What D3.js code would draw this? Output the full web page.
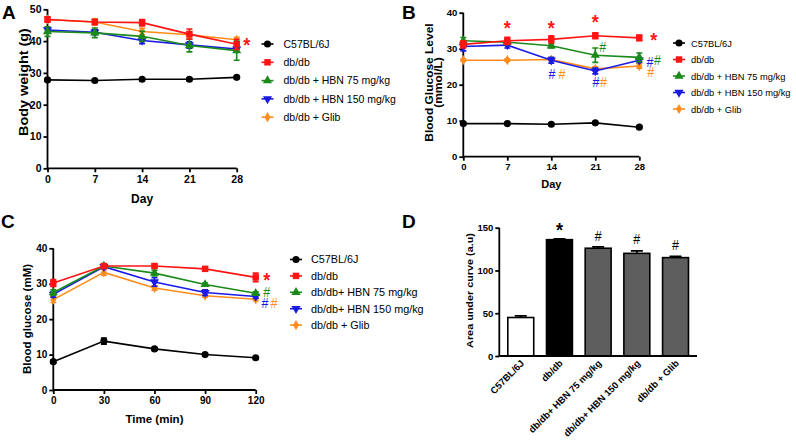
<!DOCTYPE html>
<html><head><meta charset="utf-8">
<script src="https://cdn.jsdelivr.net/npm/d3@7"></script>
<style>
body{margin:0;background:#fff;}
svg text{font-family:Arial,"Liberation Sans",sans-serif;}
</style></head>
<body><svg id="c" width="796" height="441"></svg>
<script>
// ---------- DATA ----------
const days = [0, 7, 14, 21, 28];
const minutes = [0, 30, 60, 90, 120];
const groupsAB = ["C57BL/6J", "db/db", "db/db + HBN 75 mg/kg", "db/db + HBN 150 mg/kg", "db/db + Glib"];
const groupsC = ["C57BL/6J", "db/db", "db/db+ HBN 75 mg/kg", "db/db+ HBN 150 mg/kg", "db/db + Glib"];
const groupsD = ["C57BL/6J", "db/db", "db/db+ HBN 75 mg/kg", "db/db+ HBN 150 mg/kg", "db/db + Glib"];
const groupColors = ["#000000", "#ff1414", "#1a8a1a", "#1a1ae6", "#ff8c1a"];
const groupSymbols = ["circle", "square", "triangle", "triangleDown", "diamond"];

// Panel A: body weight (g)
const weightMean = [
  [27.8, 27.6, 28.0, 28.0, 28.6],
  [46.8, 46.0, 45.8, 42.2, 39.0],
  [43.0, 42.6, 41.5, 38.6, 37.0],
  [43.5, 42.8, 40.2, 38.8, 37.5],
  [46.8, 46.0, 43.0, 42.0, 40.4]
];
const weightErr = [
  [0.4, 0.4, 0.4, 0.4, 0.4],
  [0.8, 0.8, 1.0, 1.6, 1.6],
  [1.5, 1.5, 1.6, 2.0, 3.0],
  [0.8, 0.8, 1.0, 1.0, 1.0],
  [0.8, 1.0, 1.0, 1.0, 0.8]
];
const weightTicks = [0, 10, 20, 30, 40, 50];

// Panel B: blood glucose level (mmol/L)
const glucoseMean = [
  [9.2, 9.2, 9.0, 9.4, 8.2],
  [31.2, 32.2, 32.6, 33.6, 33.0],
  [32.2, 31.8, 30.8, 28.2, 27.6],
  [30.6, 31.0, 26.8, 23.8, 26.8],
  [26.8, 26.8, 27.0, 24.4, 25.2]
];
const glucoseErr = [
  [0.3, 0.3, 0.3, 0.3, 0.3],
  [1.0, 1.0, 1.0, 0.8, 0.8],
  [0.9, 0.6, 0.6, 2.0, 1.2],
  [1.2, 0.8, 0.8, 0.8, 0.6],
  [0.3, 0.3, 0.3, 0.6, 0.6]
];
const glucoseTicks = [0, 10, 20, 30, 40];

// Panel C: OGTT blood glucose (mM)
const ogttMean = [
  [8.0, 13.8, 11.6, 10.0, 9.1],
  [30.2, 35.0, 35.0, 34.2, 31.8],
  [27.5, 35.0, 33.0, 29.8, 27.3],
  [27.0, 34.8, 30.5, 27.5, 26.4],
  [25.5, 33.2, 28.8, 26.6, 25.6]
];
const ogttErr = [
  [0.4, 0.9, 0.4, 0.3, 0.3],
  [1.0, 0.5, 0.5, 0.5, 1.2],
  [0.8, 0.5, 0.8, 0.4, 0.4],
  [0.8, 0.5, 1.2, 0.8, 0.5],
  [0.8, 0.8, 0.6, 0.4, 0.4]
];
const ogttTicks = [0, 10, 20, 30, 40];

// Panel D: area under curve (a.u)
const aucMean = [45, 136, 126, 120, 115];
const aucErr = [2, 1, 1.5, 3, 1.5];
const aucTicks = [0, 50, 100, 150];
const aucFill = ["#ffffff", "#000000", "#5e5e5e", "#5e5e5e", "#5e5e5e"];

// Significance marks: [x value, y value, text, group index]
const marksA = [[29.5, 40.3, "*", 1]];
const marksB = [
  [7, 36.9, "*", 1], [14, 36.9, "*", 1], [21, 38.7, "*", 1], [30.3, 33.8, "*", 1],
  [14.1, 23.0, "#", 3], [15.7, 23.0, "#", 4],
  [22.2, 30.6, "#", 2], [21.1, 20.8, "#", 3], [22.3, 20.8, "#", 4],
  [29.7, 26.2, "#", 3], [30.9, 27.0, "#", 2], [29.8, 23.6, "#", 4]
];
const marksC = [[126.5, 32.2, "*", 1], [126.5, 27.8, "#", 2], [125.5, 24.5, "#", 3], [130.8, 24.5, "#", 4]];
const marksD = [[1, 153, "*"], [2, 140, "#"], [3, 137, "#"], [4, 130, "#"]];

// ---------- DRAW ----------
const svg = d3.select("#c");
const symMap = {circle: d3.symbolCircle, square: d3.symbolSquare, triangle: d3.symbolTriangle, triangleDown: d3.symbolTriangle, diamond: d3.symbolDiamond};
const symSize = {circle: 40, square: 42, triangle: 36, triangleDown: 36, diamond: 30};

function marker(g, kind, x, y, color) {
  g.append("path")
    .attr("d", d3.symbol().type(symMap[kind]).size(symSize[kind])())
    .attr("transform", `translate(${x},${y})` + (kind === "triangleDown" ? " rotate(180)" : ""))
    .attr("fill", color);
}

function styleAxis(g, fs) {
  g.selectAll("path,line").attr("stroke", "#000").attr("stroke-width", 1.8);
  g.selectAll("text").attr("font-size", fs).attr("font-weight", "bold").attr("fill", "#000");
}

// significance symbol centred at (cx, cy)
function sigMark(g, cx, cy, txt, color) {
  const star = txt === "*";
  g.append("text")
    .attr("transform", `translate(${cx},${cy}) scale(1,1.15)`)
    .attr("y", star ? 10 : 4.4)
    .attr("text-anchor", "middle")
    .attr("font-size", star ? 18 : 12.5)
    .attr("font-weight", star ? "bold" : "normal")
    .attr("fill", color).text(txt);
}

function yTitle(g, x, cy, txt, fs, sy) {
  g.append("text").attr("transform", `translate(${x},${cy}) scale(1,${sy}) rotate(-90)`)
    .attr("text-anchor", "middle").attr("font-weight", "bold").attr("font-size", fs).text(txt);
}

function linePanel(o) {
  const g = svg.append("g");
  const x = d3.scaleLinear().domain(o.xDomain).range(o.xRange);
  const y = d3.scaleLinear().domain(o.yDomain).range(o.yRange);
  const ax = g.append("g").attr("transform", `translate(0,${o.yRange[0]})`)
    .call(d3.axisBottom(x).tickValues(o.xTicks).tickSize(4).tickSizeOuter(0).tickPadding(3));
  styleAxis(ax, o.tickFs);
  const ay = g.append("g").attr("transform", `translate(${o.xRange[0]},0)`)
    .call(d3.axisLeft(y).tickValues(o.yTicks).tickSize(4).tickSizeOuter(0).tickPadding(2));
  styleAxis(ay, o.tickFs);
  ax.select(".domain").attr("d", `M${o.xRange[0]},0H${o.xRange[1]}`);
  ay.select(".domain").attr("d", `M0,${o.yRange[0] + 1}V${o.yRange[1]}`);

  const line = d3.line().x((d, i) => x(o.xs[i])).y(d => y(d));
  for (let s = o.means.length - 1; s >= 0; s--) {
    const col = groupColors[s];
    g.append("path").datum(o.means[s]).attr("d", line)
      .attr("fill", "none").attr("stroke", col).attr("stroke-width", 1.6);
    o.means[s].forEach((m, i) => {
      const e = o.errs[s][i], xx = x(o.xs[i]);
      g.append("path")
        .attr("d", `M${xx},${y(m - e)}V${y(m + e)}M${xx - 3},${y(m - e)}H${xx + 3}M${xx - 3},${y(m + e)}H${xx + 3}`)
        .attr("stroke", col).attr("stroke-width", 1.6).attr("fill", "none");
      marker(g, groupSymbols[s], xx, y(m), col);
    });
  }
  o.marks.forEach(mk => sigMark(g, x(mk[0]), y(mk[1]), mk[2], groupColors[mk[3]]));
  // axis titles
  g.append("text").attr("x", (o.xRange[0] + o.xRange[1]) / 2).attr("y", o.xTitleY)
    .attr("text-anchor", "middle").attr("font-weight", "bold").attr("font-size", o.titleFs).text(o.xTitle);
  o.yTitle.forEach((t, k) => yTitle(g, o.yTitleX + k * o.yTitleGap, o.yTitleCY, t, o.yTitleFs, o.yTitleSy));
  // legend
  o.labels.forEach((lab, s) => {
    const ly = o.legY + s * o.legGap;
    g.append("line").attr("x1", o.legX - 6).attr("x2", o.legX + 6).attr("y1", ly).attr("y2", ly)
      .attr("stroke", groupColors[s]).attr("stroke-width", 1.6);
    marker(g, groupSymbols[s], o.legX, ly, groupColors[s]);
    g.append("text").attr("x", o.legX + o.legTextDx).attr("y", ly + 3.8)
      .attr("font-size", o.legFs).attr("fill", "#000").text(lab);
  });
  g.append("text").attr("x", o.letterX).attr("y", o.letterY).attr("font-size", 19)
    .attr("font-weight", "bold").text(o.letter);
}

linePanel({
  letter: "A", letterX: 2, letterY: 18.5,
  xs: days, xDomain: [0, 28], xRange: [47.5, 236.7], xTicks: days,
  yDomain: [0, 50], yRange: [168.3, 9.3], yTicks: weightTicks,
  means: weightMean, errs: weightErr, marks: marksA, tickFs: 10.5,
  xTitle: "Day", xTitleY: 203, titleFs: 12,
  yTitle: ["Body weight (g)"], yTitleX: 28, yTitleGap: 0, yTitleCY: 82, yTitleFs: 12.5, yTitleSy: 1.15,
  labels: groupsAB, legX: 267.5, legY: 44, legGap: 18.3, legTextDx: 16, legFs: 10.5
});
linePanel({
  letter: "B", letterX: 402, letterY: 18.5,
  xs: days, xDomain: [0, 28], xRange: [463.3, 639.3], xTicks: days,
  yDomain: [0, 40], yRange: [156.7, 12.7], yTicks: glucoseTicks,
  means: glucoseMean, errs: glucoseErr, marks: marksB, tickFs: 9.5,
  xTitle: "Day", xTitleY: 188, titleFs: 11,
  yTitle: ["Blood Glucose Level", "(mmol/L)"], yTitleX: 432.5, yTitleGap: 9.3, yTitleCY: 82.5, yTitleFs: 10.5, yTitleSy: 1.14,
  labels: groupsAB, legX: 679, legY: 43, legGap: 16.5, legTextDx: 12, legFs: 9.3
});
linePanel({
  letter: "C", letterX: 1, letterY: 228.3,
  xs: minutes, xDomain: [0, 120], xRange: [53.3, 255.7], xTicks: minutes,
  yDomain: [0, 40], yRange: [390, 248.3], yTicks: ogttTicks,
  means: ogttMean, errs: ogttErr, marks: marksC, tickFs: 10,
  xTitle: "Time (min)", xTitleY: 422.5, titleFs: 11.5,
  yTitle: ["Blood glucose (mM)"], yTitleX: 31, yTitleGap: 0, yTitleCY: 319, yTitleFs: 10.5, yTitleSy: 1.1,
  labels: groupsC, legX: 296, legY: 259.5, legGap: 16.4, legTextDx: 15, legFs: 10.8
});

// Panel D: bar chart
(function () {
  const g = svg.append("g");
  const x = d3.scaleBand().domain(groupsD).range([499.3, 697]).paddingInner(0.33).paddingOuter(0.22);
  const y = d3.scaleLinear().domain([0, 150]).range([356, 227.7]);
  groupsD.forEach((gname, i) => {
    const bx = x(gname), bw = x.bandwidth(), cx = bx + bw / 2;
    g.append("path")
      .attr("d", `M${cx},${y(aucMean[i])}V${y(aucMean[i] + aucErr[i])}M${cx - 6},${y(aucMean[i] + aucErr[i])}H${cx + 6}`)
      .attr("stroke", "#000").attr("stroke-width", 1.8);
    g.append("rect").attr("x", bx).attr("width", bw).attr("y", y(aucMean[i]))
      .attr("height", y(0) - y(aucMean[i])).attr("fill", aucFill[i])
      .attr("stroke", "#000").attr("stroke-width", 1.6);
  });
  const ay = g.append("g").attr("transform", "translate(499.3,0)")
    .call(d3.axisLeft(y).tickValues(aucTicks).tickSize(4).tickSizeOuter(0).tickPadding(2));
  styleAxis(ay, 9.5);
  ay.select(".domain").attr("d", `M0,${y(0)}V${y(150)}`);
  g.append("line").attr("x1", 499.3).attr("x2", 697).attr("y1", y(0)).attr("y2", y(0))
    .attr("stroke", "#000").attr("stroke-width", 1.8);
  groupsD.forEach((gname, i) => {
    const cx = x(gname) + x.bandwidth() / 2;
    g.append("text").attr("transform", `translate(${cx + 4},${y(0) + 8}) rotate(-45)`)
      .attr("text-anchor", "end").attr("font-size", 9.5).attr("font-weight", "bold").text(gname);
  });
  marksD.forEach(mk => sigMark(g, x(groupsD[mk[0]]) + x.bandwidth() / 2, y(mk[1]), mk[2], "#000"));
  yTitle(g, 473, 290.5, "Area under curve (a.u)", 9.5, 1.14);
  g.append("text").attr("x", 402).attr("y", 228.3).attr("font-size", 19).attr("font-weight", "bold").text("D");
})();
</script></body></html>
